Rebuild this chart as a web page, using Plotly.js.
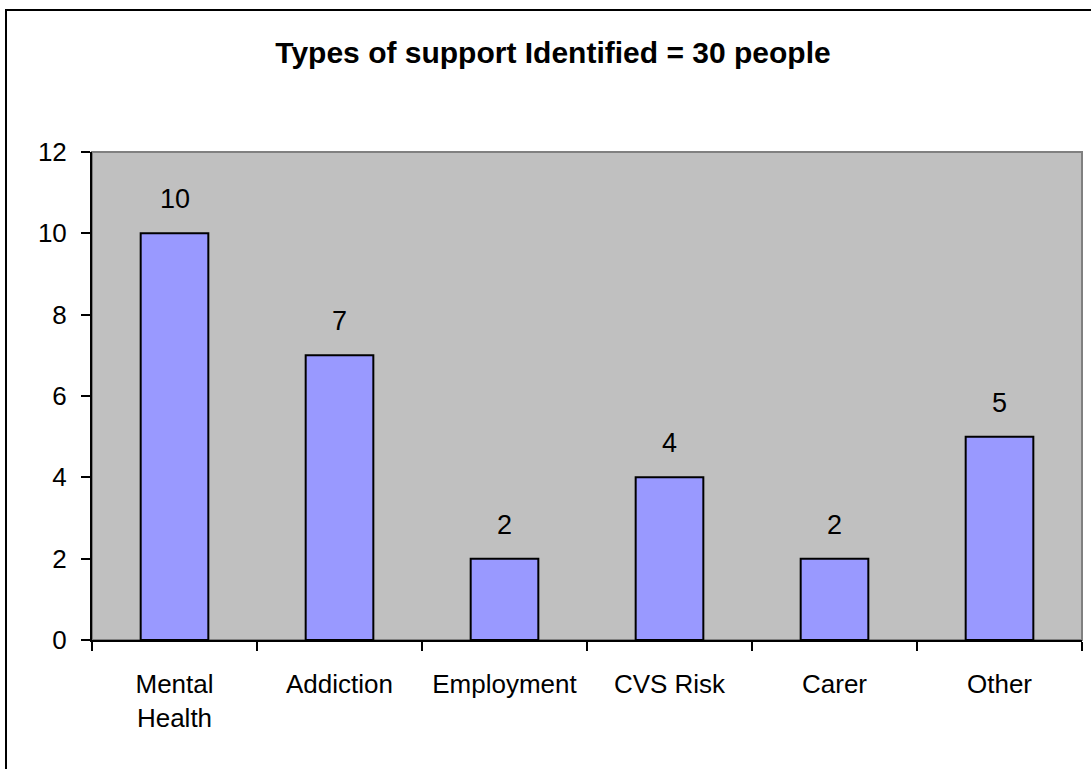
<!DOCTYPE html>
<html>
<head>
<meta charset="utf-8">
<script src="https://cdn.plot.ly/plotly-3.0.1.min.js"></script>
<style>
  html, body { margin: 0; padding: 0; background: #ffffff; }
  #wrap { position: relative; width: 1091px; height: 769px; overflow: hidden; }
  #frame { position: absolute; left: 5px; top: 9px; width: 1200px; height: 900px; border-left: 2px solid #000; border-top: 2px solid #000; box-sizing: border-box; pointer-events: none; z-index: 5; }
  #chart { position: absolute; left: 0; top: 0; width: 1091px; height: 769px; }
</style>
</head>
<body>
<div id="wrap">
  <div id="chart"></div>
  <div id="frame"></div>
</div>
<script>
const categories = ["Mental Health", "Addiction", "Employment", "CVS Risk", "Carer", "Other"];
const tickLabels = ["Mental<br>Health", "Addiction", "Employment", "CVS Risk", "Carer", "Other"];
const values = [10, 7, 2, 4, 2, 5];
const yTicks = [0, 2, 4, 6, 8, 10, 12];
const chartTitle = "Types of support Identified = 30 people";

const FONT = "Liberation Sans, Arial, sans-serif";

const trace = {
  type: "bar",
  x: categories,
  y: values,
  marker: { color: "#9999FF", line: { color: "#000000", width: 2 } },
  hoverinfo: "none"
};

const annotations = categories.map((c, i) => ({
  x: c, y: values[i], xref: "x", yref: "y",
  text: String(values[i]), showarrow: false,
  yanchor: "bottom", yshift: 17,
  font: { family: FONT, size: 27, color: "#000000" }
}));

const layout = {
  width: 1091, height: 769,
  margin: { l: 92, r: 9, t: 152, b: 129, pad: 0 },
  paper_bgcolor: "#ffffff",
  plot_bgcolor: "#C0C0C0",
  showlegend: false,
  bargap: 0.59,
  title: {
    text: "<b>" + chartTitle + "</b>",
    font: { family: FONT, size: 30, color: "#000000" },
    x: 553 / 1091, xref: "container", xanchor: "center",
    y: 1 - 52 / 769, yref: "container", yanchor: "middle"
  },
  xaxis: {
    type: "category",
    tickmode: "array",
    tickvals: categories,
    ticktext: tickLabels,
    tickson: "boundaries",
    ticks: "outside", ticklen: 9, tickwidth: 2, tickcolor: "#000000",
    showline: true, linecolor: "#000000", linewidth: 2,
    showgrid: false, zeroline: false,
    tickfont: { family: FONT, size: 26, color: "#000000" },
    ticklabelstandoff: 20
  },
  yaxis: {
    range: [0, 12],
    tickmode: "array",
    tickvals: yTicks,
    ticktext: yTicks.map(String),
    ticks: "outside", ticklen: 9, tickwidth: 2, tickcolor: "#000000",
    showline: true, linecolor: "#000000", linewidth: 2,
    showgrid: false, zeroline: false,
    tickfont: { family: FONT, size: 26, color: "#000000" },
    ticklabelstandoff: 9
  },
  shapes: [{
    type: "rect", xref: "paper", yref: "paper",
    x0: 0, x1: 1, y0: 0, y1: 1,
    line: { color: "#808080", width: 2 },
    fillcolor: "rgba(0,0,0,0)", layer: "below"
  }],
  annotations: annotations
};

Plotly.newPlot("chart", [trace], layout, { displayModeBar: false, staticPlot: true });
</script>
</body>
</html>
